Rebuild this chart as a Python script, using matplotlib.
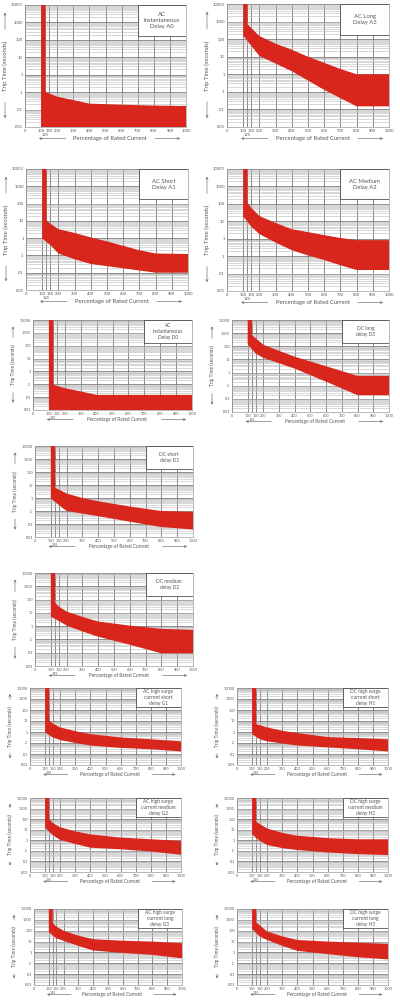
"""
Trip curve sheet: 14 small time-current bands on a log time axis.
"""

import matplotlib
matplotlib.use("Agg")
import matplotlib.pyplot as plt
from matplotlib.patches import Rectangle
from matplotlib.ticker import LogLocator, NullFormatter

RED = "#d8261d"
TXT = "#555555"

# x ticks (percentage of rated current) and y ticks (trip time, seconds)
X_TICKS = [0, 100, 150, 200, 300, 400, 500, 600, 700, 800, 900, 1000]
X_LABELS = ["0", "100", "150", "200", "300", "400", "500", "600", "700", "800", "900", "1000"]
Y_TICKS = [0.001, 0.01, 0.1, 1, 10, 100, 1000, 10000]
Y_LABELS = [".001", ".01", ".1", "1", "10", "100", "1000", "10000"]

# --- band data: upper edge (from the right side of the vertical bar) and lower edge ---
A0_UP_X = [127, 127, 150, 200, 300, 400, 600, 800, 1000]
A0_UP_Y = [10000, 0.1, 0.085, 0.055, 0.035, 0.022, 0.019, 0.017, 0.016]
A0_LO_X = [100, 100, 1000]
A0_LO_Y = [10000, 0.001, 0.001]

A3_UP_X = [127, 127, 200, 300, 400, 500, 600, 700, 800, 1000]
A3_UP_Y = [10000, 700, 150, 55, 25, 10, 4.5, 2, 1, 1]
A3_LO_X = [100, 100, 200, 400, 600, 800, 1000]
A3_LO_Y = [10000, 160, 11, 1.5, 0.13, 0.015, 0.015]

A1_UP_X = [127, 127, 150, 200, 300, 400, 500, 600, 700, 800, 1000]
A1_UP_Y = [10000, 11, 7, 3.3, 2, 1.1, 0.65, 0.36, 0.2, 0.13, 0.12]
A1_LO_X = [100, 100, 150, 200, 300, 400, 600, 800, 1000]
A1_LO_Y = [10000, 0.95, 0.4, 0.13, 0.06, 0.032, 0.018, 0.01, 0.01]

A2_UP_X = [127, 127, 150, 200, 300, 400, 500, 600, 700, 800, 1000]
A2_UP_Y = [10000, 110, 60, 20, 8, 3.5, 2.4, 1.6, 1.1, 0.83, 0.83]
A2_LO_X = [100, 100, 150, 200, 300, 400, 500, 600, 700, 800, 1000]
A2_LO_Y = [10000, 19, 4.9, 1.85, 0.6, 0.22, 0.11, 0.06, 0.03, 0.016, 0.016]

D0_UP_X = [128, 128, 200, 300, 400, 1000]
D0_UP_Y = [10000, 0.09, 0.05, 0.028, 0.015, 0.015]
D0_LO_X = [100, 100, 1000]
D0_LO_Y = [10000, 0.001, 0.001]

D3_UP_X = [127, 127, 200, 300, 400, 600, 800, 1000]
D3_UP_Y = [10000, 710, 130, 45, 16, 3, 0.56, 0.56]
D3_LO_X = [100, 100, 150, 200, 400, 600, 800, 1000]
D3_LO_Y = [10000, 140, 29, 13, 2, 0.2, 0.019, 0.019]

D1_UP_X = [127, 127, 200, 300, 400, 600, 800, 1000]
D1_UP_Y = [10000, 6.3, 2.2, 1, 0.56, 0.22, 0.1, 0.085]
D1_LO_X = [100, 100, 200, 400, 600, 800, 1000]
D1_LO_Y = [10000, 0.9, 0.1, 0.04, 0.015, 0.0058, 0.0038]

D2_UP_X = [127, 127, 150, 200, 300, 400, 600, 800, 1000]
D2_UP_Y = [10000, 60, 30, 12.6, 5, 2.2, 1.1, 0.63, 0.52]
D2_LO_X = [100, 100, 150, 200, 300, 400, 600, 800, 1000]
D2_LO_Y = [10000, 5.3, 2.5, 1.1, 0.4, 0.16, 0.04, 0.009, 0.009]

G1_UP_X = [127, 127, 150, 200, 300, 400, 600, 800, 1000]
G1_UP_Y = [10000, 11, 6, 2.6, 1.2, 0.64, 0.32, 0.22, 0.14]
G1_LO_X = [100, 100, 150, 200, 300, 400, 600, 800, 1000]
G1_LO_Y = [10000, 0.9, 0.32, 0.19, 0.1, 0.059, 0.036, 0.027, 0.017]

H1_UP_X = [127, 127, 200, 300, 400, 600, 800, 1000]
H1_UP_Y = [10000, 5.2, 2.6, 1.3, 0.8, 0.35, 0.28, 0.22]
H1_LO_X = [100, 100, 150, 200, 400, 600, 800, 1000]
H1_LO_Y = [10000, 0.64, 0.23, 0.14, 0.059, 0.04, 0.027, 0.017]

G2_UP_X = [127, 127, 150, 200, 300, 400, 600, 800, 1000]
G2_UP_Y = [10000, 100, 45, 17, 7, 3.6, 1.8, 1.25, 0.87]
G2_LO_X = [100, 100, 150, 200, 300, 400, 600, 800, 1000]
G2_LO_Y = [10000, 15, 3.2, 1.07, 0.45, 0.2, 0.14, 0.087, 0.043]

H2_UP_X = [127, 127, 200, 300, 400, 600, 800, 1000]
H2_UP_Y = [10000, 56, 13, 5, 2.7, 1.6, 1.25, 1.25]
H2_LO_X = [100, 100, 150, 200, 300, 400, 600, 800, 1000]
H2_LO_Y = [10000, 3.6, 0.9, 0.36, 0.18, 0.12, 0.07, 0.049, 0.04]

G3_UP_X = [127, 127, 150, 200, 300, 400, 600, 800, 1000]
G3_UP_Y = [10000, 500, 250, 100, 35, 16.6, 12, 10, 7]
G3_LO_X = [100, 100, 150, 200, 300, 400, 600, 800, 1000]
G3_LO_Y = [10000, 74, 20, 11.7, 4, 1.5, 0.9, 0.59, 0.29]

H3_UP_X = [127, 127, 200, 300, 400, 600, 800, 1000]
H3_UP_Y = [10000, 590, 85, 30, 14, 10, 8, 6]
H3_LO_X = [100, 100, 150, 200, 300, 400, 600, 800, 1000]
H3_LO_Y = [10000, 141, 30, 14, 4, 1.4, 0.7, 0.36, 0.23]

# (title, data, axes box in pixels: left, top, right, bottom)
CHARTS = [
    ("AC\nInstantaneous\nDelay A0", (A0_UP_X, A0_UP_Y, A0_LO_X, A0_LO_Y), (25, 5, 186, 127)),
    ("AC Long\nDelay A3", (A3_UP_X, A3_UP_Y, A3_LO_X, A3_LO_Y), (227, 4, 389, 127)),
    ("AC Short\nDelay A1", (A1_UP_X, A1_UP_Y, A1_LO_X, A1_LO_Y), (26, 169, 188, 290)),
    ("AC Medium\nDelay A2", (A2_UP_X, A2_UP_Y, A2_LO_X, A2_LO_Y), (227, 169, 389, 291)),
    ("AC\nInstantaneous\nDelay D0", (D0_UP_X, D0_UP_Y, D0_LO_X, D0_LO_Y), (33, 320, 192, 410)),
    ("DC long\ndelay D3", (D3_UP_X, D3_UP_Y, D3_LO_X, D3_LO_Y), (232, 320, 389, 412)),
    ("DC short\ndelay D1", (D1_UP_X, D1_UP_Y, D1_LO_X, D1_LO_Y), (35, 446, 193, 537)),
    ("DC medium\ndelay D2", (D2_UP_X, D2_UP_Y, D2_LO_X, D2_LO_Y), (35, 573, 193, 666)),
    ("AC high surge\ncurrent short\ndelay G1", (G1_UP_X, G1_UP_Y, G1_LO_X, G1_LO_Y), (30, 688, 181, 765)),
    ("DC high surge\ncurrent short\ndelay H1", (H1_UP_X, H1_UP_Y, H1_LO_X, H1_LO_Y), (237, 688, 388, 765)),
    ("AC high surge\ncurrent medium\ndelay G2", (G2_UP_X, G2_UP_Y, G2_LO_X, G2_LO_Y), (30, 798, 181, 872)),
    ("DC high surge\ncurrent medium\ndelay H2", (H2_UP_X, H2_UP_Y, H2_LO_X, H2_LO_Y), (237, 798, 388, 872)),
    ("AC high surge\ncurrent long\ndelay G3", (G3_UP_X, G3_UP_Y, G3_LO_X, G3_LO_Y), (34, 909, 182, 985)),
    ("DC high surge\ncurrent long\ndelay H3", (H3_UP_X, H3_UP_Y, H3_LO_X, H3_LO_Y), (237, 909, 388, 985)),
]

W, H = 400, 1000


def draw_chart(fig, title, data, box):
    up_x, up_y, lo_x, lo_y = data
    l, t, r, b = box
    h_px = b - t
    ax = fig.add_axes([l / W, 1 - b / H, (r - l) / W, h_px / H])
    ax.set_yscale("log")
    ax.set_xlim(0, 1000)
    ax.set_ylim(0.001, 10000)

    # text sizes follow the chart size, like the scaled-down originals
    big = h_px > 100
    fs_lab = 4.2 if big else 3.4
    fs_box = 4.2 if big else 3.5

    # grid
    ax.yaxis.set_minor_locator(LogLocator(base=10, subs=range(2, 10)))
    ax.yaxis.set_minor_formatter(NullFormatter())
    ax.grid(True, axis="y", which="minor", color="#b9b9b9", lw=0.4)
    ax.grid(True, axis="y", which="major", color="#707070", lw=0.55)
    ax.set_yticks(Y_TICKS, labels=Y_LABELS)
    ax.set_xticks(X_TICKS, labels=X_LABELS)
    ax.set_xticks([125], labels=["125"], minor=True)
    ax.grid(True, axis="x", which="both", color="#444444", lw=0.45)
    ax.tick_params(which="both", length=0, labelsize=3 if big else 2.7, colors=TXT, pad=1.5)
    ax.tick_params(axis="x", which="minor", pad=4.5)
    for s in ax.spines.values():
        s.set_color("#9a9a9a")
        s.set_linewidth(0.5)
    ax.set_axisbelow(True)

    # band
    px = list(up_x) + list(lo_x)[::-1]
    py = list(up_y) + list(lo_y)[::-1]
    ax.fill(px, py, color=RED, lw=0, zorder=3)

    # title box
    ax.add_patch(Rectangle((0.70, 0.75), 0.30, 0.25, transform=ax.transAxes,
                           facecolor="white", edgecolor="#333333", lw=0.5, zorder=4))
    ax.text(0.85, 0.875, title, transform=ax.transAxes, ha="center", va="center",
            fontsize=fs_box, color=TXT, linespacing=1.25, zorder=5)

    # x label with arrows
    yl = -(11.5 if big else 9.5) / h_px
    ax.text(0.53, yl, "Percentage of Rated Current", transform=ax.transAxes,
            ha="center", va="center", fontsize=fs_lab, color=TXT)
    ap = dict(arrowstyle="->", lw=0.4, color=TXT, mutation_scale=4)
    ax.annotate("", xy=(0.07, yl), xytext=(0.27, yl), xycoords="axes fraction",
                textcoords="axes fraction", arrowprops=ap, annotation_clip=False)
    ax.annotate("", xy=(0.98, yl), xytext=(0.79, yl), xycoords="axes fraction",
                textcoords="axes fraction", arrowprops=ap, annotation_clip=False)

    # y label with arrows
    xl = -20.0 / (r - l)
    half = (30.0 if big else 22.0) / h_px
    ax.text(xl, 0.5, "Trip Time (seconds)", transform=ax.transAxes, rotation=90,
            ha="center", va="center", fontsize=fs_lab, color=TXT)
    ax.annotate("", xy=(xl, 0.96), xytext=(xl, 0.5 + half + 0.03), xycoords="axes fraction",
                textcoords="axes fraction", arrowprops=ap, annotation_clip=False)
    ax.annotate("", xy=(xl, 0.05), xytext=(xl, 0.5 - half - 0.03), xycoords="axes fraction",
                textcoords="axes fraction", arrowprops=ap, annotation_clip=False)
    return ax


def main():
    plt.rcParams["font.family"] = ["Lato", "DejaVu Sans"]
    fig = plt.figure(figsize=(W / 100, H / 100), dpi=100)
    fig.patch.set_facecolor("white")
    for title, data, box in CHARTS:
        draw_chart(fig, title, data, box)
    fig.savefig("out.png", dpi=100, facecolor="white")
    plt.close(fig)


if __name__ == "__main__":
    main()
